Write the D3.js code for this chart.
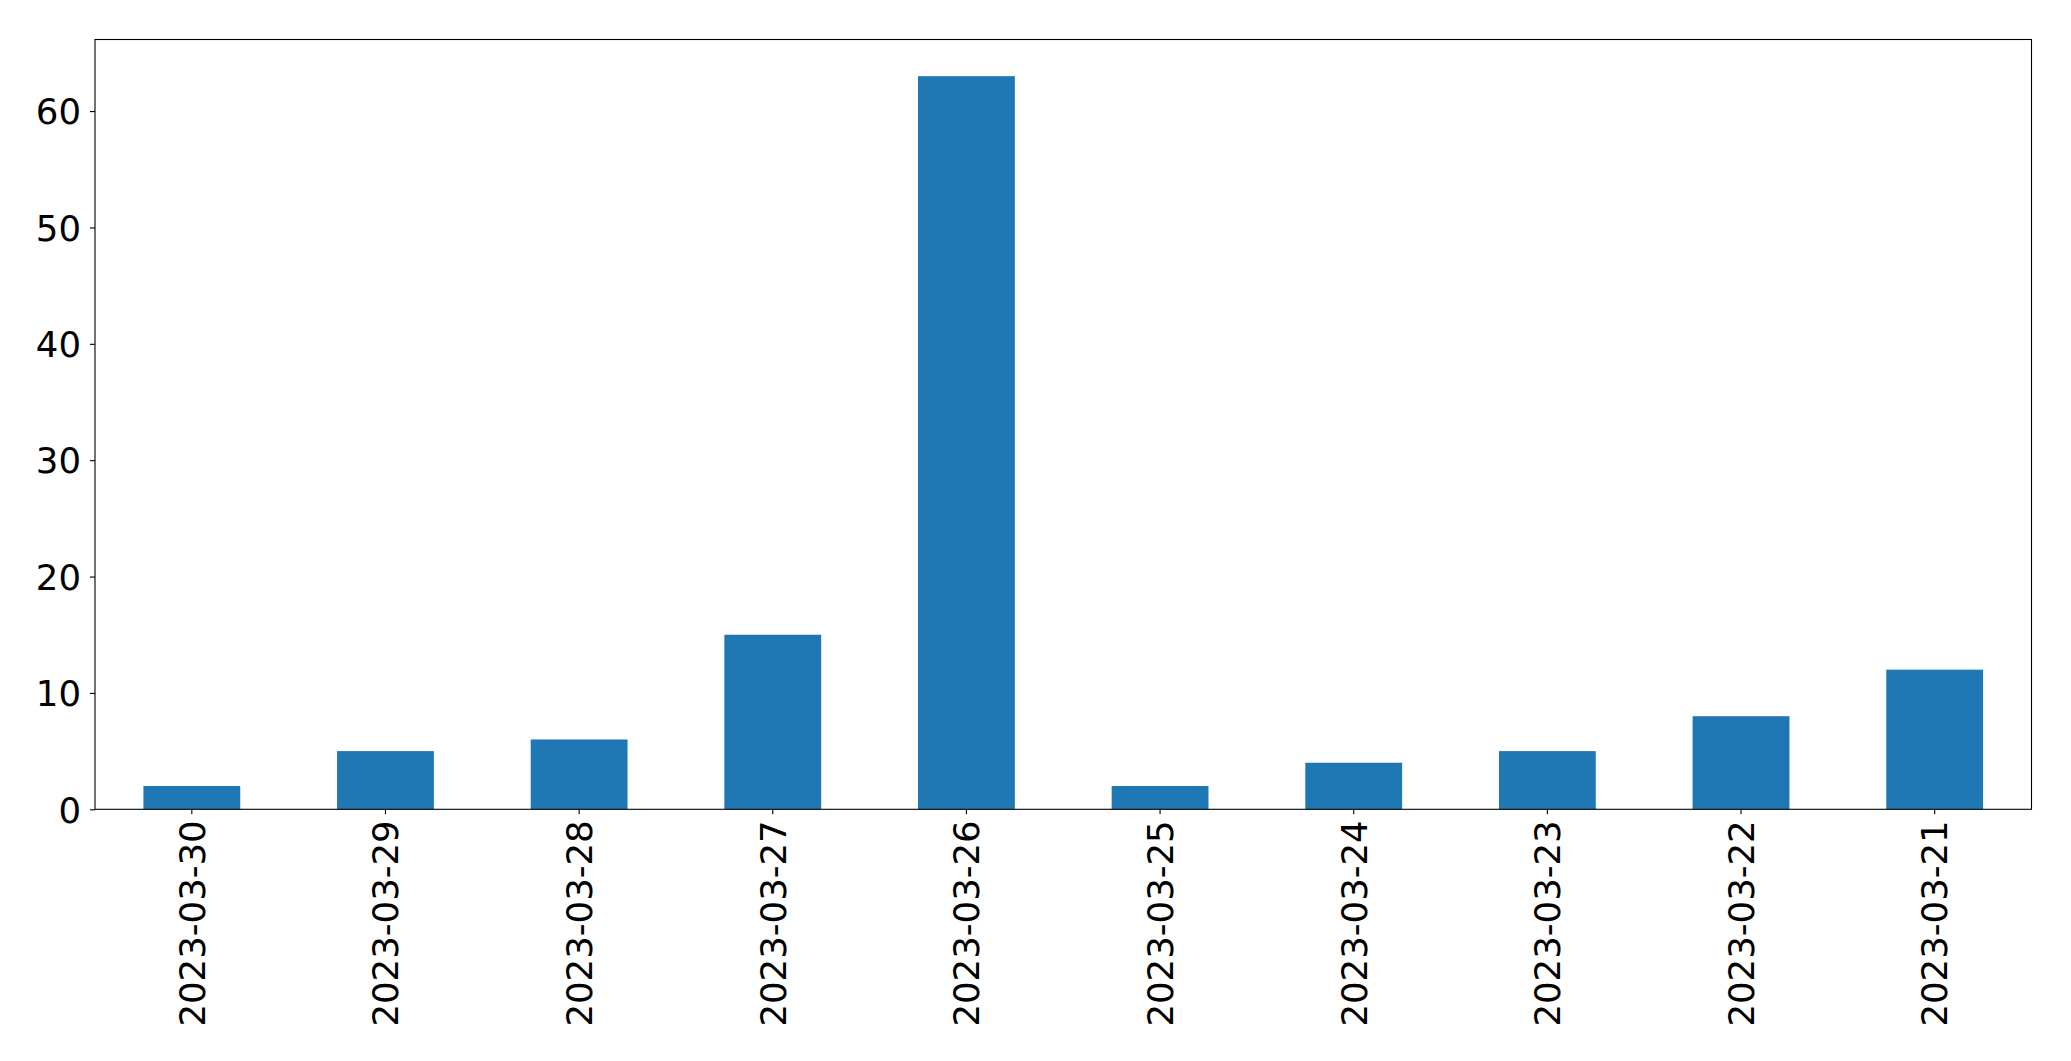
<!DOCTYPE html>
<html>
<head>
<meta charset="utf-8">
<script src="https://cdn.jsdelivr.net/npm/d3@7"></script>
<style>
  html, body { margin: 0; padding: 0; background: #fff; }
  svg { display: block; }
  text { font-family: "DejaVu Sans", sans-serif; }
</style>
</head>
<body>
<script>
const categories = ["2023-03-30","2023-03-29","2023-03-28","2023-03-27","2023-03-26","2023-03-25","2023-03-24","2023-03-23","2023-03-22","2023-03-21"];
const values = [2, 5, 6, 15, 63, 2, 4, 5, 8, 12];
const yTicks = [0, 10, 20, 30, 40, 50, 60];

const W = 2071, H = 1061;
const mLeft = 95, mRight = 2031.5, mTop = 39.5, mBottom = 809.3;

const svg = d3.select("body").append("svg").attr("width", W).attr("height", H);

const x = d3.scaleBand().domain(categories).range([mLeft, mRight]).paddingInner(0.5).paddingOuter(0.25);
const yMax = d3.max(values) * 1.05;
const y = d3.scaleLinear().domain([0, yMax]).range([mBottom, mTop]);

svg.append("g").selectAll("rect").data(values).join("rect")
  .attr("x", (d, i) => x(categories[i]))
  .attr("width", x.bandwidth())
  .attr("y", d => y(d))
  .attr("height", d => y(0) - y(d))
  .attr("fill", "#1f77b4");

const fs = 35.5;
const yAxis = svg.append("g").attr("transform", `translate(${mLeft},0)`)
  .call(d3.axisLeft(y).tickValues(yTicks).tickSize(5).tickPadding(9).tickFormat(d3.format("d")));
yAxis.select(".domain").remove();
yAxis.selectAll("text").attr("font-size", fs).attr("font-family", "DejaVu Sans").attr("fill", "#000").attr("dy", "0.36em");
yAxis.selectAll("line").attr("stroke", "#000").attr("stroke-width", 1.1);

const xAxis = svg.append("g").attr("transform", `translate(0,${mBottom})`)
  .call(d3.axisBottom(x).tickSize(5).tickPadding(8));
xAxis.select(".domain").remove();
xAxis.selectAll("line").attr("stroke", "#000").attr("stroke-width", 1.1);
xAxis.selectAll("text")
  .attr("font-size", fs).attr("font-family", "DejaVu Sans").attr("fill", "#000")
  .attr("text-anchor", "end")
  .attr("transform", "rotate(-90)")
  .attr("x", -11).attr("y", 0).attr("dy", "0.36em");

svg.append("rect")
  .attr("x", mLeft).attr("y", mTop)
  .attr("width", mRight - mLeft).attr("height", mBottom - mTop)
  .attr("fill", "none").attr("stroke", "#000").attr("stroke-width", 1.1);
</script>
</body>
</html>
